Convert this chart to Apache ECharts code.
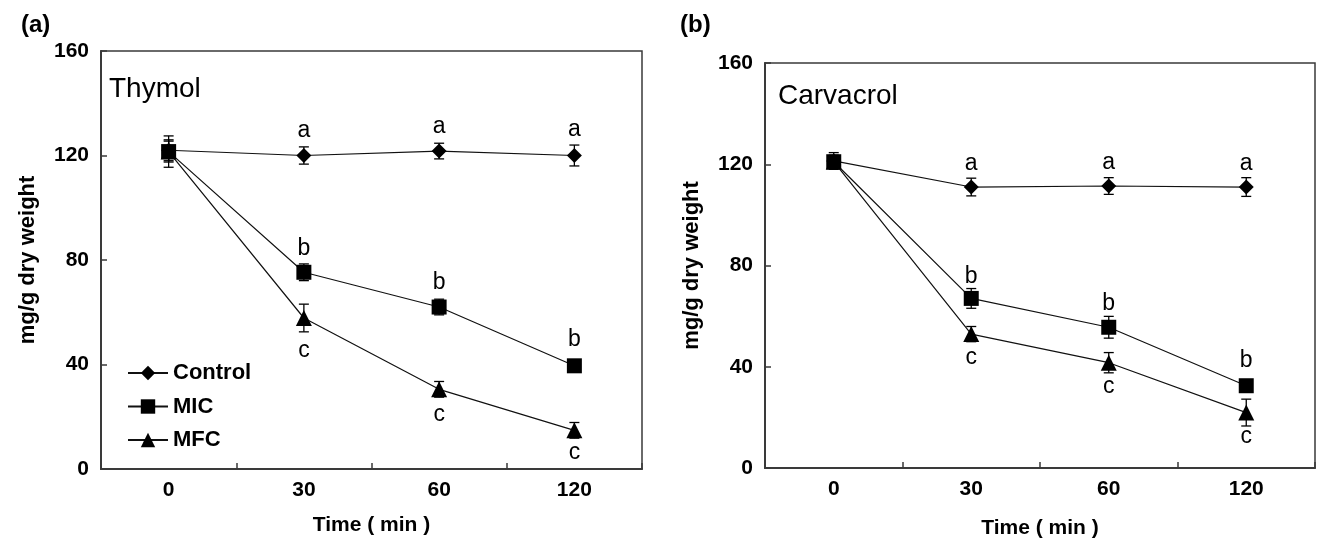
<!DOCTYPE html>
<html>
<head>
<meta charset="utf-8">
<script src="https://cdn.jsdelivr.net/npm/echarts@6/dist/echarts.min.js"></script>
<style>html,body{margin:0;padding:0;background:#fff}#c{width:1318px;height:544px}</style>
</head>
<body>
<div id="c"></div>
<script>
// ---- data ----
const categories = ['0', '30', '60', '120'];
const yTicks = [0, 40, 80, 120, 160];

const thymolControl = [122, 120, 121.7, 120];
const thymolControlErr = [4, 3.3, 3, 4];
const thymolMIC = [121.5, 75.3, 62, 39.5];
const thymolMICErr = [6, 3.2, 3, 1.5];
const thymolMFC = [121.5, 57.8, 30.5, 14.8];
const thymolMFCErr = [4, 5.3, 3, 3];

const carvacrolControl = [121.3, 111, 111.4, 111];
const carvacrolControlErr = [3.3, 3.5, 3.3, 3.7];
const carvacrolMIC = [121, 67, 55.6, 32.5];
const carvacrolMICErr = [2.5, 3.9, 4.3, 1.5];
const carvacrolMFC = [121, 52.9, 41.6, 21.9];
const carvacrolMFCErr = [2.5, 3, 4, 5.3];

const lettersControl = ['', 'a', 'a', 'a'];
const lettersMIC = ['', 'b', 'b', 'b'];
const lettersMFC = ['', 'c', 'c', 'c'];

const seriesNames = ['Control', 'MIC', 'MFC'];
const panelTitles = ['Thymol', 'Carvacrol'];
const panelTags = ['(a)', '(b)'];

// ---- styling ----
const FONT = 'Liberation Sans, Arial, Helvetica, sans-serif';
const INK = '#111';
const AXIS = '#3a3a3a';

function makeAxes(gridIndex) {
  return {
    x: {
      type: 'category', gridIndex: gridIndex, data: categories, boundaryGap: true,
      axisLine: { show: true, lineStyle: { color: AXIS, width: 2 } },
      axisTick: { show: true, inside: true, length: 6, lineStyle: { color: AXIS, width: 1.5 } },
      axisLabel: { color: '#000', fontSize: 21, fontWeight: 'bold', fontFamily: FONT, margin: 11 },
      splitLine: { show: false },
      name: 'Time ( min )', nameLocation: 'middle', nameGap: gridIndex === 0 ? 46 : 50,
      nameTextStyle: { color: '#000', fontSize: 21, fontWeight: 'bold', fontFamily: FONT }
    },
    y: {
      type: 'value', gridIndex: gridIndex, min: yTicks[0], max: yTicks[yTicks.length - 1], interval: 40,
      axisLine: { show: true, lineStyle: { color: AXIS, width: 2 } },
      axisTick: { show: true, inside: true, length: 6, lineStyle: { color: AXIS, width: 1.5 } },
      axisLabel: { color: '#000', fontSize: 21, fontWeight: 'bold', fontFamily: FONT, margin: 12 },
      splitLine: { show: false },
      name: 'mg/g dry weight', nameLocation: 'middle', nameGap: 62,
      nameTextStyle: { color: '#000', fontSize: 22, fontWeight: 'bold', fontFamily: FONT }
    }
  };
}

function lineSeries(name, values, letters, symbol, size, pos, idx, z, overrides) {
  return {
    type: 'line', name: name, xAxisIndex: idx, yAxisIndex: idx, z: z,
    symbol: symbol, symbolSize: size, showAllSymbols: true,
    lineStyle: { color: INK, width: 1.2 },
    itemStyle: { color: '#000' },
    animation: false,
    data: values.map(function (v, i) {
      const item = { value: v };
      if (letters[i]) {
        const dist = (overrides && overrides[i] !== undefined) ? overrides[i] : 5;
        item.label = {
          show: true, formatter: letters[i], position: pos, distance: dist,
          color: '#000', fontSize: 23, fontFamily: FONT, fontWeight: 'normal'
        };
      }
      return item;
    })
  };
}

function errSeries(values, errs, idx) {
  const data = values.map(function (v, i) { return [i, v - errs[i], v + errs[i]]; });
  return {
    type: 'custom', xAxisIndex: idx, yAxisIndex: idx, z: 1, animation: false, silent: true,
    data: data,
    renderItem: function (params, api) {
      const lo = api.coord([api.value(0), api.value(1)]);
      const hi = api.coord([api.value(0), api.value(2)]);
      const hw = 5;
      const st = { stroke: '#000', lineWidth: 1.3 };
      return {
        type: 'group', children: [
          { type: 'line', shape: { x1: lo[0], y1: lo[1], x2: hi[0], y2: hi[1] }, style: st },
          { type: 'line', shape: { x1: lo[0] - hw, y1: lo[1], x2: lo[0] + hw, y2: lo[1] }, style: st },
          { type: 'line', shape: { x1: hi[0] - hw, y1: hi[1], x2: hi[0] + hw, y2: hi[1] }, style: st }
        ]
      };
    }
  };
}

const axA = makeAxes(0), axB = makeAxes(1);

const option = {
  backgroundColor: '#fff',
  animation: false,
  grid: [
    { left: 101, top: 51, width: 541, height: 418, show: true, borderColor: AXIS, borderWidth: 1.5, backgroundColor: 'transparent' },
    { left: 765, top: 63, width: 550, height: 406, show: true, borderColor: AXIS, borderWidth: 1.5, backgroundColor: 'transparent' }
  ],
  xAxis: [axA.x, axB.x],
  yAxis: [axA.y, axB.y],
  legend: {
    data: seriesNames, orient: 'vertical', left: 122, top: 357,
    itemWidth: 40, itemHeight: 18, itemGap: 11.5,
    textStyle: { color: '#000', fontSize: 22, fontWeight: 'bold', fontFamily: FONT },
    selectedMode: false
  },
  graphic: [
    { type: 'text', x: 21, y: 25, style: { text: panelTags[0], fill: '#000', fontSize: 24, fontWeight: 'bold', fontFamily: FONT, verticalAlign: 'middle' } },
    { type: 'text', x: 680, y: 25, style: { text: panelTags[1], fill: '#000', fontSize: 24, fontWeight: 'bold', fontFamily: FONT, verticalAlign: 'middle' } },
    { type: 'text', x: 109, y: 89, style: { text: panelTitles[0], fill: '#000', fontSize: 28, fontFamily: FONT, verticalAlign: 'middle' } },
    { type: 'text', x: 778, y: 96, style: { text: panelTitles[1], fill: '#000', fontSize: 28, fontFamily: FONT, verticalAlign: 'middle' } }
  ],
  series: [
    errSeries(thymolControl, thymolControlErr, 0),
    errSeries(thymolMIC, thymolMICErr, 0),
    errSeries(thymolMFC, thymolMFCErr, 0),
    lineSeries(seriesNames[2], thymolMFC, lettersMFC, 'triangle', 16, 'bottom', 0, 2, { 1: 13, 2: 6, 3: 3 }),
    lineSeries(seriesNames[0], thymolControl, lettersControl, 'diamond', 15, 'top', 0, 3, { 1: 6, 2: 5, 3: 7 }),
    lineSeries(seriesNames[1], thymolMIC, lettersMIC, 'rect', 15, 'top', 0, 4, { 1: 5, 2: 5, 3: 7 }),

    errSeries(carvacrolControl, carvacrolControlErr, 1),
    errSeries(carvacrolMIC, carvacrolMICErr, 1),
    errSeries(carvacrolMFC, carvacrolMFCErr, 1),
    lineSeries(seriesNames[2], carvacrolMFC, lettersMFC, 'triangle', 16, 'bottom', 1, 2, { 1: 4, 2: 4, 3: 5 }),
    lineSeries(seriesNames[0], carvacrolControl, lettersControl, 'diamond', 15, 'top', 1, 3, { 1: 4, 2: 4, 3: 4 }),
    lineSeries(seriesNames[1], carvacrolMIC, lettersMIC, 'rect', 15, 'top', 1, 4, { 1: 3, 2: 5, 3: 6 })
  ]
};

const chart = echarts.init(document.getElementById('c'), null, { renderer: 'canvas' });
chart.setOption(option);
</script>
</body>
</html>
